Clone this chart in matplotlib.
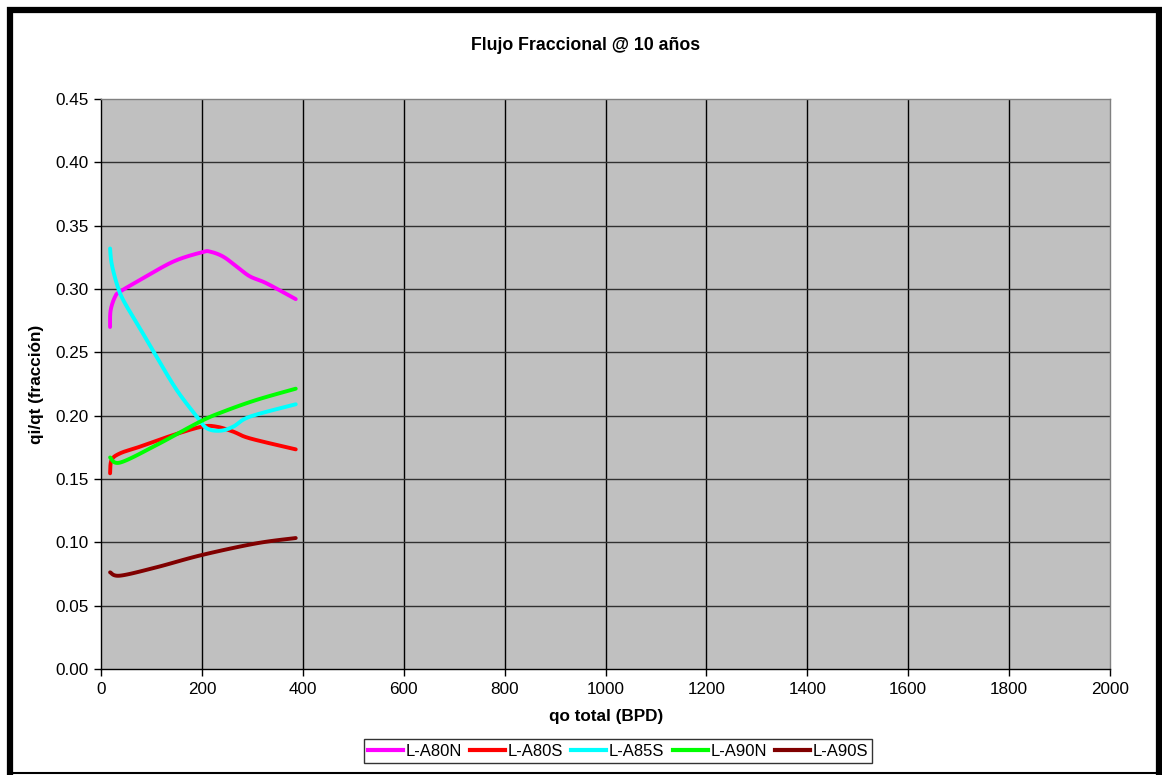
import numpy as np
import matplotlib
matplotlib.use("Agg")
import matplotlib.pyplot as plt
from matplotlib.lines import Line2D
from matplotlib.patches import Rectangle

plt.rcParams['font.family'] = ['Liberation Sans', 'DejaVu Sans']

# Production rate (BPD) and fractional flow for each layer
x_a80n = [18, 19, 28, 38, 77, 143, 200, 216, 242, 269, 295, 328, 386]
y_a80n = [0.270, 0.283, 0.294, 0.298, 0.307, 0.3216, 0.329, 0.3295, 0.3256, 0.3177, 0.310, 0.3045, 0.292]

x_a80s = [18, 21, 38, 77, 143, 200, 229, 262, 295, 386]
y_a80s = [0.1545, 0.165, 0.1703, 0.1755, 0.1847, 0.1913, 0.1913, 0.1874, 0.1821, 0.1734]

x_a85s = [18, 21, 31, 44, 77, 110, 150, 190, 210, 236, 262, 295, 386]
y_a85s = [0.332, 0.3203, 0.3045, 0.2913, 0.269, 0.2466, 0.2203, 0.1992, 0.190, 0.1881, 0.1913, 0.1992, 0.209]

x_a90n = [18, 38, 110, 196, 242, 308, 386]
y_a90n = [0.167, 0.163, 0.1768, 0.1952, 0.2031, 0.2124, 0.2213]

x_a90s = [18, 38, 110, 200, 308, 386]
y_a90s = [0.0763, 0.0737, 0.0803, 0.090, 0.0992, 0.1034]

series_names = ['L-A80N', 'L-A80S', 'L-A85S', 'L-A90N', 'L-A90S']
series_colors = ['#FF00FF', '#FF0000', '#00FFFF', '#00FF00', '#800000']
series_x = [x_a80n, x_a80s, x_a85s, x_a90n, x_a90s]
series_y = [y_a80n, y_a80s, y_a85s, y_a90n, y_a90s]

x_ticks = [0, 200, 400, 600, 800, 1000, 1200, 1400, 1600, 1800, 2000]
y_ticks = [0.00, 0.05, 0.10, 0.15, 0.20, 0.25, 0.30, 0.35, 0.40, 0.45]


def smooth(xs, ys, n=20):
    """Catmull-Rom smoothing through the data points (spreadsheet-style smoothed line)."""
    p = np.column_stack([xs, ys]).astype(float)
    p = np.vstack([p[0], p, p[-1]])
    out = []
    t = np.linspace(0, 1, n, endpoint=False)[:, None]
    for i in range(1, len(p) - 2):
        p0, p1, p2, p3 = p[i - 1], p[i], p[i + 1], p[i + 2]
        seg = 0.5 * ((2 * p1) + (-p0 + p2) * t + (2 * p0 - 5 * p1 + 4 * p2 - p3) * t ** 2
                     + (-p0 + 3 * p1 - 3 * p2 + p3) * t ** 3)
        out.append(seg)
    out.append(p[-2][None, :])
    s = np.vstack(out)
    return s[:, 0], s[:, 1]


fig = plt.figure(figsize=(11.62, 7.75), dpi=100)
W, H = 1162, 775
ax = fig.add_axes([101 / W, 1 - 669 / H, (1110 - 101) / W, (669 - 99) / H])
ax.set_facecolor('#C0C0C0')

for xs, ys, c in zip(series_x, series_y, series_colors):
    sx, sy = smooth(xs, ys)
    ax.plot(sx, sy, color=c, lw=2.8, solid_capstyle='round', zorder=3)

ax.set_xlim(0, 2000)
ax.set_ylim(0, 0.45)
ax.set_xticks(x_ticks)
ax.set_yticks(y_ticks)
ax.set_xticklabels([str(v) for v in x_ticks])
ax.set_yticklabels([f'{v:.2f}' for v in y_ticks])
ax.tick_params(axis='both', labelsize=12.3, length=5, width=1, color='black', direction='out', pad=4)

for v in x_ticks[1:-1]:
    ax.axvline(v, color='black', lw=1.0, zorder=1)
for v in y_ticks[1:-1]:
    ax.axhline(v, color='#303030', lw=1.0, zorder=1)

for side in ['top', 'right']:
    ax.spines[side].set_color('#808080')
    ax.spines[side].set_linewidth(1.0)
for side in ['left', 'bottom']:
    ax.spines[side].set_color('black')
    ax.spines[side].set_linewidth(1.0)

fig.text(586 / W, 1 - 46 / H, 'Flujo Fraccional @ 10 años', ha='center', va='center',
         fontsize=12.8, fontweight='bold')
fig.text(606 / W, 1 - 716 / H, 'qo total (BPD)', ha='center', va='center',
         fontsize=12.3, fontweight='bold')
fig.text(37 / W, 1 - 384 / H, 'qi/qt (fracción)', ha='center', va='center',
         fontsize=12.3, fontweight='bold', rotation=90)

handles = [Line2D([0], [0], color=c, lw=3) for c in series_colors]
leg = fig.legend(handles, series_names, loc='center', bbox_to_anchor=(618 / W, 1 - 751 / H),
                 ncol=5, fontsize=12, frameon=True, fancybox=False, handlelength=2.1,
                 handletextpad=0.15, columnspacing=0.5, borderpad=0.25, borderaxespad=0)
leg.get_frame().set_edgecolor('black')
leg.get_frame().set_linewidth(1.0)

# Outer chart frame: heavy left/top/right edges, thin bottom edge
fig.add_artist(Rectangle((10 / W, -0.05), (1159 - 10) / W, 1.05 - 10 / H,
                         transform=fig.transFigure, fill=False, edgecolor='black',
                         lw=4.5, joinstyle='miter', clip_on=False))
fig.add_artist(Line2D([10 / W, 1159 / W], [1 - 773 / H, 1 - 773 / H], lw=1.5, color='black',
                      transform=fig.transFigure, clip_on=False))

fig.savefig('out.png', dpi=100, facecolor='white')
